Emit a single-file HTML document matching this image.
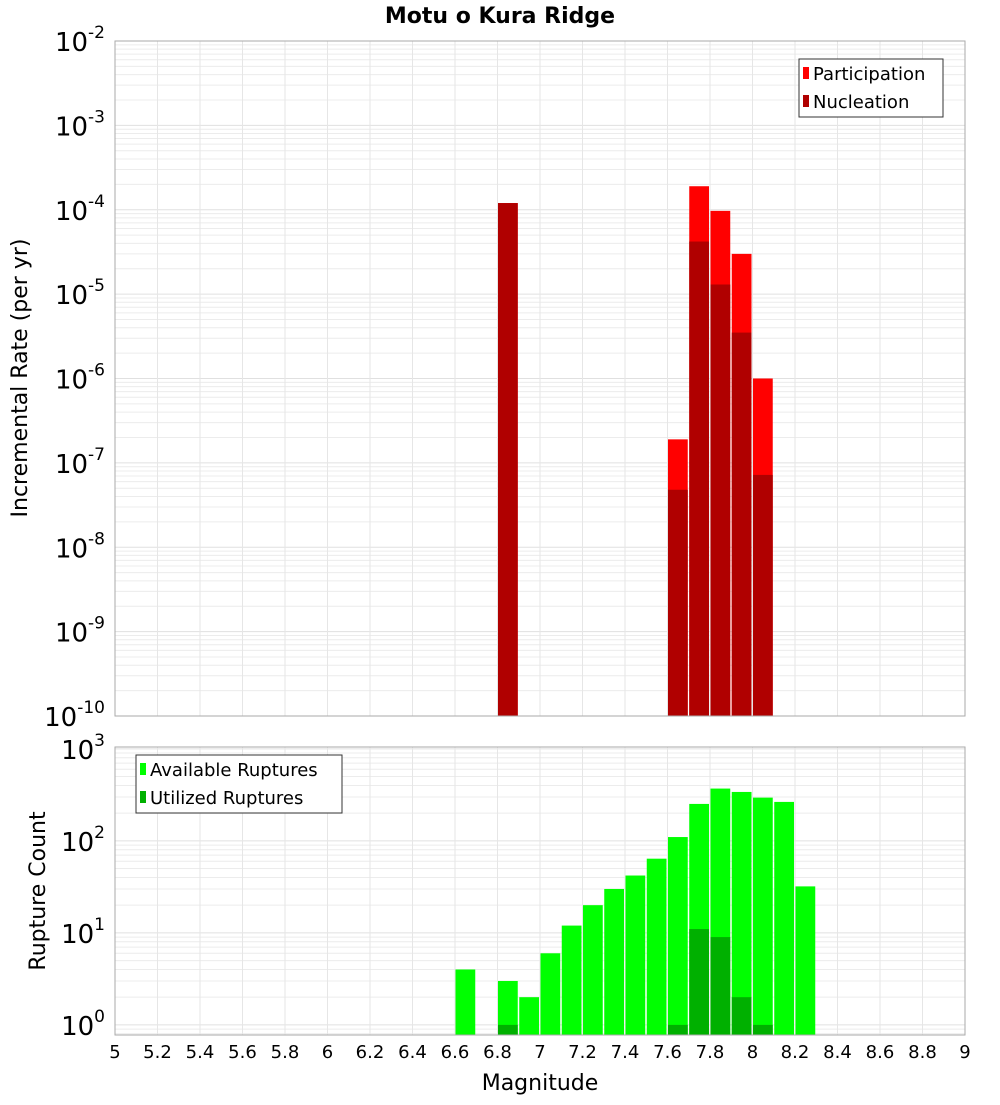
<!DOCTYPE html>
<html><head><meta charset="utf-8"><style>
body{margin:0;background:#fff;font-family:"Liberation Sans","DejaVu Sans",sans-serif}
svg text{font-family:"DejaVu Sans","Liberation Sans",sans-serif}
</style></head><body>
<svg id="c" width="1000" height="1100" xmlns="http://www.w3.org/2000/svg">
<rect width="1000" height="1100" fill="#fff"/>
<text x="500" y="23" text-anchor="middle" font-size="22" font-weight="bold">Motu o Kura Ridge</text>
<g id="top"></g><g id="bot"></g>
<text transform="translate(27,378) rotate(-90)" text-anchor="middle" font-size="22">Incremental Rate (per yr)</text>
<text transform="translate(45,891) rotate(-90)" text-anchor="middle" font-size="22">Rupture Count</text>
<text x="540" y="1090" text-anchor="middle" font-size="22">Magnitude</text>
<g>
<rect x="799" y="59" width="144" height="58" fill="#fff" stroke="#333"/>
<rect x="803" y="67" width="6" height="12" fill="#ff0000"/><text x="813" y="80" font-size="18">Participation</text>
<rect x="803" y="95" width="6" height="12" fill="#b00000"/><text x="813" y="108" font-size="18">Nucleation</text>
</g>
<g>
<rect x="136" y="755" width="206" height="58" fill="#fff" stroke="#333"/>
<rect x="140" y="763" width="6" height="12" fill="#00ff00"/><text x="150" y="776" font-size="18">Available Ruptures</text>
<rect x="140" y="791" width="6" height="12" fill="#00b000"/><text x="150" y="804" font-size="18">Utilized Ruptures</text>
</g>
</svg>
<script>
const mags=[6.6,6.8,6.9,7.0,7.1,7.2,7.3,7.4,7.5,7.6,7.7,7.8,7.9,8.0,8.1,8.2];
const topBins=[6.8,7.6,7.7,7.8,7.9,8.0];
const participation=[1.2e-4,1.9e-7,1.9e-4,9.7e-5,3.0e-5,1.0e-6];
const nucleation=[1.2e-4,4.8e-8,4.2e-5,1.3e-5,3.5e-6,7.2e-8];
const available=[4,3,2,6,12,20,30,42,64,110,252,370,340,295,265,32];
const utilized=[0,1,0,0,0,0,0,0,0,1,11,9,2,1,0,0];
const xTicks=["5","5.2","5.4","5.6","5.8","6","6.2","6.4","6.6","6.8","7","7.2","7.4","7.6","7.8","8","8.2","8.4","8.6","8.8","9"];
const NS="http://www.w3.org/2000/svg";
const X0=115,X1=965;
function x(m){return X0+(m-5)/4*(X1-X0);}
function mk(p,t,a){const e=document.createElementNS(NS,t);for(const k in a)e.setAttribute(k,a[k]);p.appendChild(e);return e;}
function panel(g,top,bottom,lmin,lmax,name){
 const y=v=>bottom-(Math.log10(v)-lmin)/(lmax-lmin)*(bottom-top);
 for(let d=Math.floor(lmin);d<=Math.ceil(lmax);d++)for(let k=1;k<10;k++){const v=k*Math.pow(10,d);const l=Math.log10(v);if(l<lmin||l>lmax)continue;const yy=y(v);
  const ln=mk(g,'line',{x1:X0,x2:X1,y1:yy,y2:yy,stroke:k==1?'#e0e0e0':'#ececec','stroke-width':1});
  
  
  if(k==1){const t=mk(g,'text',{x:105,y:yy+10,'text-anchor':'end','font-size':26});t.textContent='10';
   const s=mk(t,'tspan',{dy:-13,'font-size':17});s.textContent=d;
   
   }}
 xTicks.forEach(tk=>{const xx=x(+tk);const ln=mk(g,'line',{x1:xx,x2:xx,y1:top,y2:bottom,stroke:'#e6e6e6'});
  
  });
 return y;}
const gt=document.getElementById('top'),gb=document.getElementById('bot');
const yt=panel(gt,41,716,-10,-2,'top');
topBins.forEach((m,i)=>{
 const r1=mk(gt,'rect',{x:x(m)+0.5,y:yt(participation[i]),width:x(m+0.1)-x(m)-1.5,height:716-yt(participation[i]),fill:'#ff0000'});
 
 
 const r2=mk(gt,'rect',{x:x(m)+0.5,y:yt(nucleation[i]),width:x(m+0.1)-x(m)-1.5,height:716-yt(nucleation[i]),fill:'#b00000'});
 
 });
mk(gt,'rect',{x:X0,y:41,width:X1-X0,height:675,fill:'none',stroke:'#aaa'});
const yb=panel(gb,747,1035,-0.11,3.02,'bottom');
mags.forEach((m,i)=>{
 const r1=mk(gb,'rect',{x:x(m)+0.5,y:yb(available[i]),width:x(m+0.1)-x(m)-1.5,height:1035-yb(available[i]),fill:'#00ff00'});
 
 
 if(utilized[i]>0){const r2=mk(gb,'rect',{x:x(m)+0.5,y:yb(utilized[i]),width:x(m+0.1)-x(m)-1.5,height:1035-yb(utilized[i]),fill:'#00b000'});
 
 }});
mk(gb,'rect',{x:X0,y:747,width:X1-X0,height:288,fill:'none',stroke:'#aaa'});
xTicks.forEach(tk=>{const t=mk(gb,'text',{x:x(+tk),y:1058,'text-anchor':'middle','font-size':18});t.textContent=tk;
 
 });
</script>
</body></html>
